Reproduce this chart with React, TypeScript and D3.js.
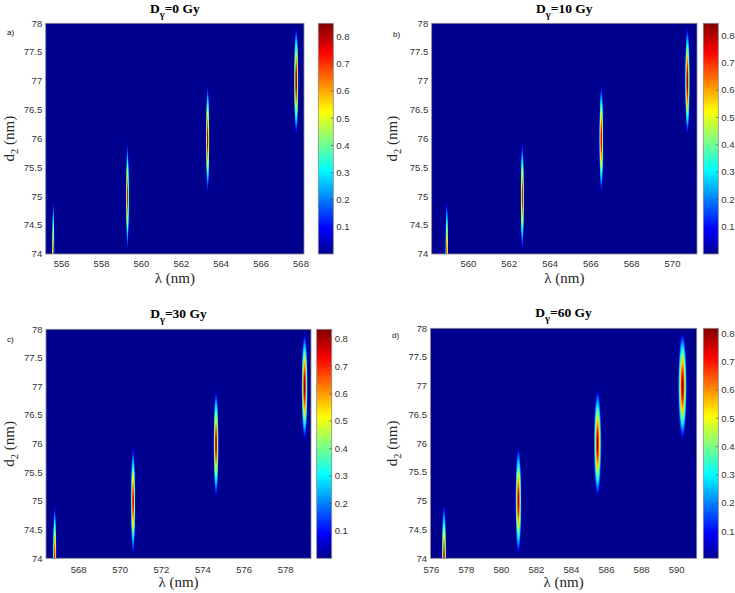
import React from 'react';
import * as d3 from 'd3';

// ---------- data ----------
const PANEL_LABELS = ['a)', 'b)', 'c)', 'd)'];
const DOSES = ['0', '10', '30', '60'];
const LAMBDA_DOMAINS: [number, number][] = [
  [555.2, 568.15],
  [558.2, 571.2],
  [566.42, 579.23],
  [575.95, 591.15],
];
const LAMBDA_TICKS: number[][] = [
  [556, 558, 560, 562, 564, 566, 568],
  [560, 562, 564, 566, 568, 570],
  [568, 570, 572, 574, 576, 578],
  [576, 578, 580, 582, 584, 586, 588, 590],
];
const D_DOMAIN: [number, number] = [74, 78];
const D_TICKS = [74, 74.5, 75, 75.5, 76, 76.5, 77, 77.5, 78];
const PEAK_D = [74, 75, 76, 77];
const PEAK_LAMBDA: number[][] = [
  [555.58, 559.3, 563.32, 567.76],
  [558.94, 562.64, 566.51, 570.73],
  [566.84, 570.63, 574.64, 578.92],
  [576.72, 580.97, 585.49, 590.34],
];
const PEAK_AMP: number[][] = [
  [0.72, 0.74, 0.8, 0.85],
  [0.72, 0.76, 0.8, 0.845],
  [0.74, 0.78, 0.81, 0.835],
  [0.76, 0.79, 0.8, 0.818],
];
const PEAK_HALF_WIDTH: number[][] = [
  [0.075, 0.09, 0.105, 0.13],
  [0.085, 0.1, 0.116, 0.132],
  [0.1, 0.124, 0.14, 0.165],
  [0.15, 0.19, 0.23, 0.265],
];
const PEAK_HALF_HEIGHT = 0.95;
const CBAR_MIN = [0, 0, 0, 0.005];
const CBAR_MAX = [0.85, 0.845, 0.835, 0.818];
const CBAR_TICKS = [0.1, 0.2, 0.3, 0.4, 0.5, 0.6, 0.7, 0.8];
// radial profile of a resonance (relative radius -> relative value)
const PROFILE_R = [0, 0.15, 0.3, 0.45, 0.6, 0.72, 0.84, 0.93, 1];
const PROFILE_V = [1, 0.95, 0.8, 0.66, 0.47, 0.33, 0.19, 0.08, 0];

// ---------- layout ----------
const LAYOUT = [
  { x0: 45.7, x1: 304, y0: 23.3, y1: 254, cb0: 318.3, cb1: 333.3, titleY: 13, labelY: 283, tickY: 267, ylabX: 14, panelLab: [7, 35] },
  { x0: 431.7, x1: 697, y0: 23.3, y1: 254, cb0: 703.3, cb1: 718.3, titleY: 13, labelY: 283, tickY: 267, ylabX: 397, panelLab: [393, 36.5] },
  { x0: 46, x1: 311, y0: 329.3, y1: 558.3, cb0: 316.7, cb1: 331.7, titleY: 318.3, labelY: 587, tickY: 572.5, ylabX: 14, panelLab: [7, 342] },
  { x0: 430.5, x1: 696.7, y0: 328.3, y1: 558.3, cb0: 703.3, cb1: 718.3, titleY: 316.7, labelY: 587, tickY: 572.5, ylabX: 397, panelLab: [392, 338] },
];

const JET_STOPS = [0, 7 / 63, 23 / 63, 39 / 63, 55 / 63, 1];
const JET_COLORS = ['#00008f', '#0000ff', '#00ffff', '#ffff00', '#ff0000', '#800000'];
const jet = d3
  .scaleLinear<string>()
  .domain(JET_STOPS)
  .range(JET_COLORS)
  .interpolate(d3.interpolateRgb)
  .clamp(true);

const SERIF = "'Liberation Serif', 'Times New Roman', serif";
const SANS = "'Liberation Sans', Arial, sans-serif";
const TEXT_COLOR = '#333';
const LABEL_COLOR = '#262626';

function Panel({ i }: { i: number }) {
  const L = LAYOUT[i];
  const x = d3.scaleLinear().domain(LAMBDA_DOMAINS[i]).range([L.x0, L.x1]);
  const y = d3.scaleLinear().domain(D_DOMAIN).range([L.y1, L.y0]);
  const cbY = d3.scaleLinear().domain([CBAR_MIN[i], CBAR_MAX[i]]).range([L.y1, L.y0]);
  const norm = d3.scaleLinear().domain([CBAR_MIN[i], CBAR_MAX[i]]).range([0, 1]);
  const cx = (L.x0 + L.x1) / 2;
  const cy = (L.y0 + L.y1) / 2;
  const clipId = `clip-${i}`;
  const cbId = `cb-${i}`;
  return (
    <g>
      <defs>
        <clipPath id={clipId}>
          <rect x={L.x0} y={L.y0} width={L.x1 - L.x0} height={L.y1 - L.y0} />
        </clipPath>
        <linearGradient id={cbId} x1="0" y1="1" x2="0" y2="0">
          {JET_STOPS.map((s, k) => (
            <stop key={k} offset={s} stopColor={JET_COLORS[k]} />
          ))}
        </linearGradient>
        {PEAK_D.map((dv, k) => (
          <radialGradient key={k} id={`pk-${i}-${k}`} cx="0.5" cy="0.5" r="0.5">
            {PROFILE_R.map((r, m) => (
              <stop key={m} offset={r} stopColor={jet(norm(CBAR_MIN[i] + (PEAK_AMP[i][k] - CBAR_MIN[i]) * PROFILE_V[m]))} />
            ))}
          </radialGradient>
        ))}
      </defs>
      {/* plot background */}
      <rect x={L.x0} y={L.y0} width={L.x1 - L.x0} height={L.y1 - L.y0} fill={jet(0)} />
      <g clipPath={`url(#${clipId})`}>
        {PEAK_D.map((dv, k) => {
          const px = x(PEAK_LAMBDA[i][k]);
          const rx = x(PEAK_LAMBDA[i][k] + PEAK_HALF_WIDTH[i][k]) - px;
          const py = y(dv);
          const ry = y(dv - PEAK_HALF_HEIGHT) - py;
          return <ellipse key={k} cx={px} cy={py} rx={rx} ry={ry} fill={`url(#pk-${i}-${k})`} />;
        })}
      </g>
      <rect x={L.x0} y={L.y0} width={L.x1 - L.x0} height={L.y1 - L.y0} fill="none" stroke="#8a8a8a" strokeWidth={0.8} />
      {/* x ticks */}
      {LAMBDA_TICKS[i].map((t) => (
        <text key={t} x={x(t)} y={L.tickY} textAnchor="middle" fontSize={9.5} fontFamily={SANS} fill={TEXT_COLOR}>
          {t}
        </text>
      ))}
      {/* y ticks */}
      {D_TICKS.map((t) => (
        <text key={t} x={L.x0 - 3.5} y={y(t) + 3.3} textAnchor="end" fontSize={9.5} fontFamily={SANS} fill={TEXT_COLOR}>
          {t}
        </text>
      ))}
      {/* axis labels */}
      <text x={cx} y={L.labelY} textAnchor="middle" fontSize={15} fontFamily={SERIF} fill={LABEL_COLOR}>
        λ (nm)
      </text>
      <text transform={`translate(${L.ylabX},${cy}) rotate(-90)`} textAnchor="middle" fontSize={15} fontFamily={SERIF} fill={LABEL_COLOR}>
        d
        <tspan fontSize={10.5} dy={4}>
          2
        </tspan>
        <tspan dy={-4}> (nm)</tspan>
      </text>
      {/* title */}
      <text x={cx} y={L.titleY} textAnchor="middle" fontSize={13.5} fontWeight="bold" fontFamily={SERIF} fill="#000">
        D
        <tspan fontSize={10.5} dy={5}>
          γ
        </tspan>
        <tspan dy={-5}>={DOSES[i]} Gy</tspan>
      </text>
      {/* panel label */}
      <text x={L.panelLab[0]} y={L.panelLab[1]} fontSize={8} fontFamily={SANS} fill="#111">
        {PANEL_LABELS[i]}
      </text>
      {/* colorbar */}
      <rect x={L.cb0} y={L.y0} width={L.cb1 - L.cb0} height={L.y1 - L.y0} fill={`url(#${cbId})`} stroke="#8a8a8a" strokeWidth={0.8} />
      {CBAR_TICKS.map((t) => (
        <g key={t}>
          <line x1={L.cb1 - 2.5} x2={L.cb1} y1={cbY(t)} y2={cbY(t)} stroke="#444" strokeWidth={0.6} />
          <text x={L.cb1 + 3} y={cbY(t) + 3.3} fontSize={9.5} fontFamily={SANS} fill={TEXT_COLOR}>
            {t}
          </text>
        </g>
      ))}
    </g>
  );
}

export default function App() {
  return (
    <svg width={735} height={593} style={{ position: 'absolute', left: 0, top: 0, background: '#fff' }}>
      <rect width={735} height={593} fill="#fff" />
      {[0, 1, 2, 3].map((i) => (
        <Panel key={i} i={i} />
      ))}
    </svg>
  );
}
